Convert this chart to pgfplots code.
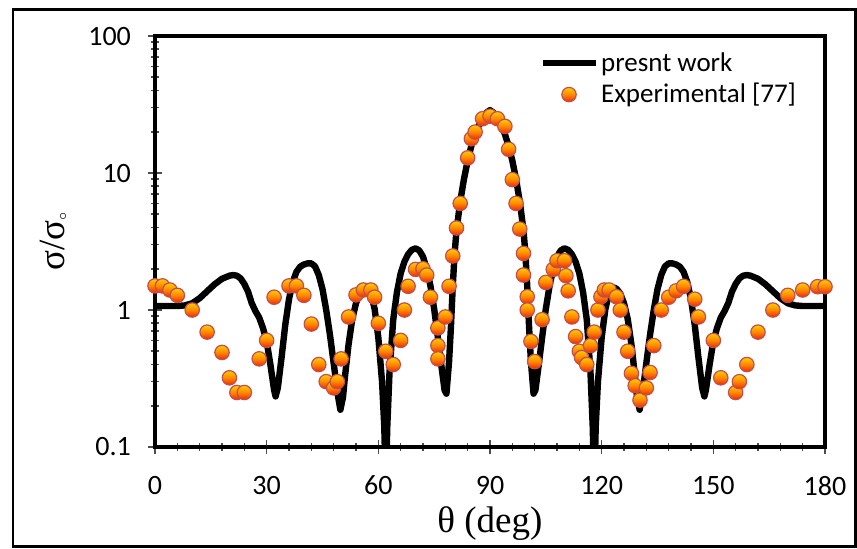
\documentclass[border=0pt]{standalone}
\usepackage{fontspec}
\setmainfont{Carlito}
\newfontfamily\timesfont{Liberation Serif}
\usepackage{pgfplots}
\pgfplotsset{compat=1.18}
\definecolor{ballborder}{RGB}{192,80,77}
\definecolor{balltop}{RGB}{255,196,0}
\definecolor{ballmid}{RGB}{255,135,0}
\definecolor{ballbot}{RGB}{240,45,5}
\pgfdeclareverticalshading{ballgrad}{100bp}{color(0bp)=(ballbot); color(27bp)=(ballbot); color(50bp)=(ballmid); color(72bp)=(balltop); color(100bp)=(balltop)}
\pgfdeclareplotmark{eball}{%
  \pgfpathcircle{\pgfpointorigin}{\pgfplotmarksize}%
  \pgfshadepath{ballgrad}{0}%
  \pgfpathcircle{\pgfpointorigin}{\pgfplotmarksize}%
  \pgfsetstrokecolor{ballborder}\pgfsetlinewidth{0.6pt}%
  \pgfusepath{stroke}}
\pgfplotsset{
  linelegend/.style={legend image code/.code={\draw[##1] (0pt,0pt) -- (26.5pt,0pt);}},
  marklegend/.style={legend image code/.code={\draw[mark repeat=2,mark phase=2,##1] plot coordinates {(0pt,0pt) (13.25pt,0pt) (26.5pt,0pt)};}},
}
\begin{document}
\begin{tikzpicture}
\useasboundingbox (0,0) rectangle (428.5pt,-274pt);
\draw[line width=1.4pt] (6.5pt,-4.6pt) rectangle (427.6pt,-273.2pt);
\begin{axis}[
  at={(77.5pt,-223.5pt)}, anchor=south west,
  scale only axis, width=335pt, height=205.5pt,
  xmin=0, xmax=180, ymode=log, ymin=0.1, ymax=100,
  xtick={0,30,60,90,120,150,180}, minor x tick num=4,
  ytick={0.1,1,10,100}, yticklabels={0.1,1,10,100},
  /pgf/number format/assume math mode=true,
  tick pos=left, tick align=center,
  major tick length=7pt, minor tick length=4pt,
  tick style={color=gray!60!black, line width=0.8pt},
  axis line style={line width=2pt, black},
  ticklabel style={font=\fontsize{14}{16}\selectfont},
  xticklabel style={yshift=-7.5pt},
  yticklabel style={xshift=-5pt},
  xlabel={\timesfont θ (deg)},
  ylabel={\timesfont σ/σ\raisebox{-0.15ex}{\scriptsize$\circ$}},
  label style={font=\fontsize{18.5}{20}\selectfont},
  xlabel style={at={(axis description cs:0.5,-0.187)}, anchor=center},
  ylabel style={at={(axis description cs:-0.152,0.5)}, anchor=center},
  legend style={draw=none, fill=none, at={(axis description cs:0.573,0.967)}, anchor=north west,
    inner sep=0pt, font=\fontsize{13.5}{15}\selectfont, row sep=2.2pt,
    nodes={inner sep=1.2pt}},
  legend cell align=left,
]
\addplot[black, line width=3.2pt, line join=round, no marks, linelegend]
coordinates {
(0,1.07)(2,1.07)(4,1.07)(6,1.07)(8,1.08)(10,1.12)(12,1.22)(14,1.37)(16,1.54)(18,1.69)
(20,1.78)(21,1.80)(22,1.78)(23,1.70)(24,1.55)(25,1.36)(26,1.12)(27,0.98)(28,0.88)(29,0.74)
(30,0.59)(31,0.40)(32,0.26)(32.4,0.234)(33,0.27)(34,0.45)(35,0.78)(36,1.2)(37,1.6)(38,1.9)
(39,2.07)(40,2.15)(41,2.19)(42,2.19)(43,2.08)(44,1.8)(45,1.42)(46,1.0)(47,0.66)(48,0.41)
(49,0.25)(49.8,0.187)(50.5,0.23)(51,0.32)(52,0.56)(53,0.86)(54,1.12)(55,1.32)(56,1.43)
(56.8,1.46)(57.5,1.42)(58,1.32)(59,1.02)(60,0.63)(61,0.3)(61.6,0.14)(62,0.05)(62.4,0.14)
(63,0.35)(64,0.85)(65,1.35)(66,1.85)(67,2.25)(68,2.55)(69,2.75)(70,2.82)(71,2.72)(72,2.45)
(73,2.0)(74,1.5)(75,1.02)(76,0.63)(77,0.38)(77.8,0.26)(78.3,0.245)(79,0.42)(79.5,0.75)
(80,1.5)(80.5,2.6)(81,3.8)(82,6.2)(83,9.0)(84,12.3)(85,15.8)(86,19.2)(87,22.3)(88,25.0)
(89,27.5)(90,28.8)
(91,27.5)(92,25.0)(93,22.3)(94,19.2)(95,15.8)(96,12.3)(97,9.0)(98,6.2)(99,3.8)(99.5,2.6)
(100,1.5)(100.5,0.75)(101,0.42)(101.7,0.245)(102.2,0.26)(103,0.38)(104,0.63)(105,1.02)
(106,1.5)(107,2.0)(108,2.45)(109,2.72)(110,2.82)(111,2.75)(112,2.55)(113,2.25)(114,1.85)
(115,1.35)(116,0.85)(117,0.35)(117.6,0.14)(118,0.05)(118.4,0.14)(119,0.3)(120,0.63)
(121,1.02)(122,1.32)(122.5,1.42)(123.2,1.46)(124,1.43)(125,1.32)(126,1.12)(127,0.86)
(128,0.56)(129,0.32)(129.5,0.23)(130.2,0.187)(131,0.25)(132,0.41)(133,0.66)(134,1.0)
(135,1.42)(136,1.8)(137,2.08)(138,2.19)(139,2.19)(140,2.15)(141,2.07)(142,1.9)(143,1.6)
(144,1.2)(145,0.78)(146,0.45)(147,0.27)(147.6,0.234)(148,0.26)(149,0.40)(150,0.59)
(151,0.74)(152,0.88)(153,0.98)(154,1.12)(155,1.36)(156,1.55)(157,1.70)(158,1.78)
(159,1.80)(160,1.78)(162,1.69)(164,1.54)(166,1.37)(168,1.22)(170,1.12)(172,1.08)
(174,1.07)(176,1.07)(178,1.07)(180,1.07)
};
\addlegendentry{presnt work}
\addplot[only marks, mark=eball, mark size=3.6pt, marklegend]
coordinates {
(0,1.5)(2,1.5)(4,1.4)(6,1.28)(10,1.0)(14,0.69)(18,0.49)(20,0.32)(22,0.25)(24,0.25)
(28,0.44)(30,0.60)(32,1.24)(36,1.5)(38,1.5)(40,1.28)(42,0.79)(44,0.40)(46,0.30)(48,0.27)
(49,0.30)(50,0.44)(52,0.89)(54,1.29)(56,1.40)(58,1.40)(59,1.24)(60,0.80)(62,0.50)(64,0.40)
(66,0.60)(67,1.0)(68,1.49)(70,1.98)(72,2.0)(73,1.8)(74,1.24)(76,0.74)(76,0.55)(76,0.44)
(78,0.89)(79,1.49)(80,2.48)(81,3.97)(82,6.0)(84,12.9)(85,17.8)(86,19.9)(88,24.9)(90,26)
(92,24.9)(94,21.9)(95,14.9)(96,8.95)(97,6.0)(98,3.9)(99,2.59)(99,1.8)(100,1.25)(100,1.0)
(101,0.59)(102,0.42)(104,0.85)(105,1.59)(107,1.98)(108,2.29)(110,2.29)(110.4,1.78)(111,1.38)
(112,0.89)(113,0.64)(114,0.50)(114.6,0.45)(116,0.40)(117,0.55)(118,0.69)(119,1.0)(119.8,1.25)
(120.7,1.40)(122,1.40)(124,1.25)(125,1.0)(126,0.69)(127,0.50)(128,0.345)(129,0.28)(130.3,0.22)
(132,0.27)(133,0.35)(134,0.55)(136,1.0)(138,1.24)(140,1.38)(142,1.49)(145,1.20)(146,0.89)
(150,0.60)(152,0.32)(156,0.25)(157,0.30)(159,0.40)(162,0.69)(166,1.0)(170,1.28)(174,1.40)
(178,1.48)(180,1.48)
};
\addlegendentry{Experimental [77]}
\end{axis}
\end{tikzpicture}
\end{document}
